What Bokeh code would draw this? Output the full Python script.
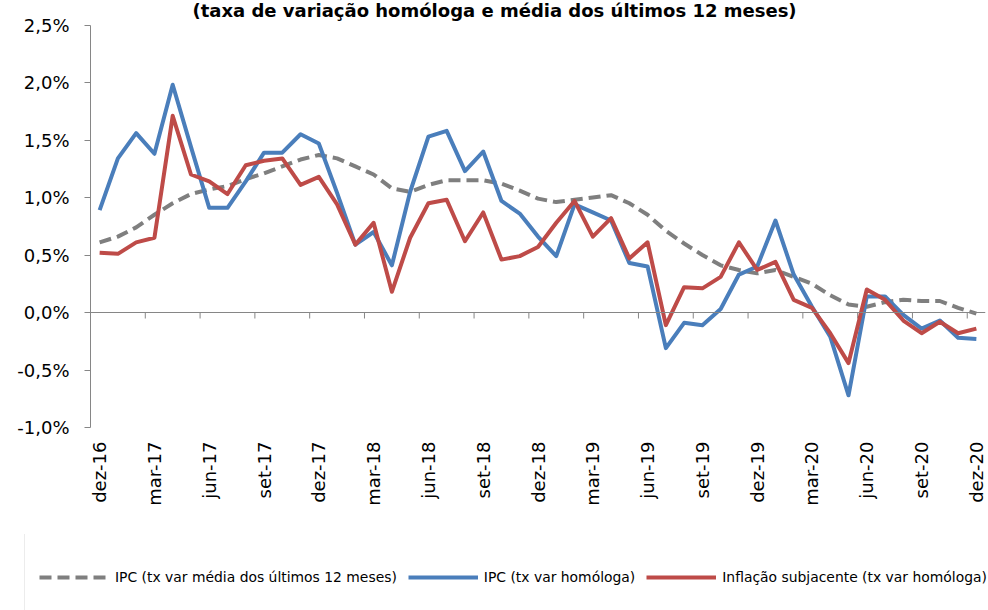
import math
from bokeh.plotting import figure
from bokeh.layouts import column
from bokeh.models import (Range1d, FixedTicker, CustomJSTickFormatter, Span, Label,
                          Legend, LegendItem)
from bokeh.embed import file_html
from bokeh.resources import INLINE

# ---------------- data ----------------
months = [
    "dez-16",
    "jan-17", "fev-17", "mar-17", "abr-17", "mai-17", "jun-17",
    "jul-17", "ago-17", "set-17", "out-17", "nov-17", "dez-17",
    "jan-18", "fev-18", "mar-18", "abr-18", "mai-18", "jun-18",
    "jul-18", "ago-18", "set-18", "out-18", "nov-18", "dez-18",
    "jan-19", "fev-19", "mar-19", "abr-19", "mai-19", "jun-19",
    "jul-19", "ago-19", "set-19", "out-19", "nov-19", "dez-19",
    "jan-20", "fev-20", "mar-20", "abr-20", "mai-20", "jun-20",
    "jul-20", "ago-20", "set-20", "out-20", "nov-20", "dez-20",
]
tick_labels = ["dez-16", "mar-17", "jun-17", "set-17", "dez-17", "mar-18", "jun-18",
               "set-18", "dez-18", "mar-19", "jun-19", "set-19", "dez-19", "mar-20",
               "jun-20", "set-20", "dez-20"]

ipc_media12 = [0.61, 0.66, 0.74, 0.85, 0.95, 1.03, 1.07, 1.10, 1.16, 1.21, 1.27, 1.33, 1.37,
               1.34, 1.27, 1.20, 1.08, 1.05, 1.11, 1.15, 1.15, 1.15, 1.12, 1.06, 0.99,
               0.96, 0.98, 1.00, 1.02, 0.95, 0.85, 0.71, 0.60, 0.50, 0.41, 0.37, 0.34,
               0.37, 0.31, 0.25, 0.15, 0.07, 0.05, 0.09, 0.11, 0.10, 0.10, 0.04, -0.01]

ipc_homologa = [0.89, 1.34, 1.56, 1.38, 1.98, 1.44, 0.91, 0.91, 1.14, 1.39, 1.39, 1.55, 1.47,
                1.04, 0.59, 0.70, 0.41, 1.05, 1.53, 1.58, 1.23, 1.40, 0.97, 0.86, 0.66,
                0.49, 0.94, 0.87, 0.80, 0.43, 0.40, -0.31, -0.09, -0.11, 0.03, 0.33, 0.40,
                0.80, 0.33, 0.05, -0.21, -0.72, 0.14, 0.14, -0.02, -0.14, -0.07, -0.22, -0.23]

subjacente = [0.52, 0.51, 0.61, 0.65, 1.71, 1.20, 1.14, 1.03, 1.28, 1.32, 1.34, 1.11, 1.18,
              0.94, 0.59, 0.78, 0.18, 0.65, 0.95, 0.98, 0.62, 0.87, 0.46, 0.49, 0.57,
              0.78, 0.97, 0.66, 0.82, 0.47, 0.61, -0.11, 0.22, 0.21, 0.31, 0.61, 0.37,
              0.44, 0.11, 0.04, -0.18, -0.44, 0.20, 0.11, -0.07, -0.18, -0.08, -0.18, -0.14]

y_ticks = [-1.0, -0.5, 0.0, 0.5, 1.0, 1.5, 2.0, 2.5]

series_names = ["IPC (tx var média dos últimos 12 meses)",
                "IPC (tx var homóloga)",
                "Inflação subjacente (tx var homóloga)"]
series_colors = ["#7F7F7F", "#4A7EBB", "#BE4B48"]
title_text = "(taxa de variação homóloga e média dos últimos 12 meses)"

# ---------------- main figure ----------------
FONT = "DejaVu Sans"
n = len(months)
x = list(range(n))
x_lo, x_hi = -0.5, n - 0.5

W, H_MAIN, H_LEG = 988, 534, 76
FRAME_H = 427                     # frame from canvas top down to the -1,0% line
PX_PER_UNIT = 115.0               # vertical pixels per 1 percentage point
y_top = y_ticks[0] + FRAME_H / PX_PER_UNIT   # head-room above 2,5% for the title

p = figure(width=W, height=H_MAIN, output_backend="svg", toolbar_location=None,
           x_range=Range1d(x_lo, x_hi), y_range=Range1d(y_ticks[0], y_top),
           min_border_left=90, min_border_right=3, min_border_top=0,
           min_border_bottom=H_MAIN - FRAME_H)
p.outline_line_color = None
p.grid.visible = False
p.background_fill_color = "white"
p.border_fill_color = "white"

# y axis
ya = p.yaxis[0]
ya.ticker = FixedTicker(ticks=y_ticks)
ya.bounds = (y_ticks[0], y_ticks[-1])
ya.formatter = CustomJSTickFormatter(code="return tick.toFixed(1).replace('.', ',') + '%';")
ya.axis_line_color = "#868686"
ya.major_tick_line_color = "#868686"
ya.major_tick_in = 0
ya.major_tick_out = 6
ya.minor_tick_line_color = None
ya.major_label_standoff = 15
ya.major_label_text_font = FONT
ya.major_label_text_font_size = "18px"
ya.major_label_text_color = "black"

# x axis (labels only; the axis line is the zero line)
tick_pos = [months.index(t) for t in tick_labels]
xa = p.xaxis[0]
xa.ticker = FixedTicker(ticks=tick_pos)
xa.major_label_overrides = {i: months[i] for i in tick_pos}
xa.axis_line_color = None
xa.major_tick_line_color = None
xa.minor_tick_line_color = None
xa.major_label_orientation = math.pi / 2
xa.major_label_standoff = 8
xa.major_label_text_font = FONT
xa.major_label_text_font_size = "18px"
xa.major_label_text_color = "black"

# zero line with category-boundary tick marks
p.add_layout(Span(location=0, dimension="width", line_color="#868686", line_width=1))
bound = [x_lo + 3 * k for k in range(len(tick_labels))]
p.segment(x0=bound, x1=bound, y0=[0] * len(bound), y1=[-6 / PX_PER_UNIT] * len(bound),
          line_color="#868686", line_width=1)

# series
r_gray = p.line(x, ipc_media12, line_color=series_colors[0], line_width=4, line_dash="12 6")
r_blue = p.line(x, ipc_homologa, line_color=series_colors[1], line_width=4, line_join="round")
r_red = p.line(x, subjacente, line_color=series_colors[2], line_width=4, line_join="round")

# title (top, inside the head-room of the frame)
p.add_layout(Label(x=404, y=FRAME_H - 10, x_units="screen", y_units="screen", text=title_text,
                   text_align="center", text_baseline="middle", text_font=FONT,
                   text_font_style="bold", text_font_size="18px", text_color="black"))

# ---------------- legend strip ----------------
lg = figure(width=W, height=H_LEG, output_backend="svg", toolbar_location=None,
            x_range=Range1d(0, W), y_range=Range1d(0, H_LEG),
            min_border_left=0, min_border_right=0, min_border_top=0, min_border_bottom=0)
lg.outline_line_color = None
lg.grid.visible = False
lg.axis.visible = False
lg.background_fill_color = "white"
lg.border_fill_color = "white"
for fig in (p, lg):
    try:
        fig.frame_align = False
    except Exception:
        pass

# legend sample renderers: placed outside the visible range, only their style is shown
off_x = [-20, -10]
off_y = [0, 0]
l_gray = lg.line(off_x, off_y, line_color=series_colors[0], line_width=4, line_dash="12 6")
l_blue = lg.line(off_x, off_y, line_color=series_colors[1], line_width=4)
l_red = lg.line(off_x, off_y, line_color=series_colors[2], line_width=4)

legend = Legend(items=[LegendItem(label=series_names[0], renderers=[l_gray]),
                       LegendItem(label=series_names[1], renderers=[l_blue]),
                       LegendItem(label=series_names[2], renderers=[l_red])],
                orientation="horizontal", location=(24, -11), padding=14, margin=0,
                label_height=58, glyph_height=58, glyph_width=70, label_standoff=6,
                spacing=11, border_line_color="#D9D9D9", border_line_width=1,
                background_fill_color="white", background_fill_alpha=1.0,
                label_text_font=FONT, label_text_font_size="13.9px",
                label_text_color="black")
lg.add_layout(legend)

layout = column(p, lg, spacing=0)
open("out.html", "w").write(file_html(layout, INLINE))
